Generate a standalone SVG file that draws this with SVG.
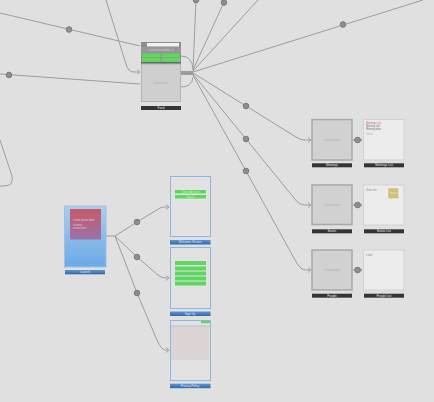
<svg xmlns="http://www.w3.org/2000/svg" width="434" height="402" viewBox="0 0 434 402">
<defs>
<linearGradient id="blueBg" x1="0" y1="0" x2="0" y2="1"><stop offset="0" stop-color="#a9cdee"/><stop offset="1" stop-color="#6aaae6"/></linearGradient>
<linearGradient id="redBg" x1="0" y1="0" x2="0" y2="1"><stop offset="0" stop-color="#c9586a"/><stop offset="1" stop-color="#9a73a8"/></linearGradient>
<linearGradient id="blueBar" x1="0" y1="0" x2="0" y2="1"><stop offset="0" stop-color="#5d95d3"/><stop offset="1" stop-color="#2f67ad"/></linearGradient>
<marker id="arr" markerWidth="6" markerHeight="6" refX="4" refY="3" orient="auto" markerUnits="userSpaceOnUse"><path d="M1,0.5 L4,3 L1,5.5" fill="none" stroke="#a5a5a5" stroke-width="1"/></marker>
</defs>
<style>
.bg{fill:#e0e0e0}
.ln{fill:none;stroke:#9d9d9d;stroke-width:1}
.dot{fill:#8e8e8e;stroke:#7a7a7a;stroke-width:1}
.cont{fill:#d1d1d1;stroke:#a8a8a8;stroke-width:1.5}
.scr{fill:#ececec;stroke:#d2d2d2;stroke-width:1}
.bar{fill:#343434}
.bbar{fill:url(#blueBar)}
.lbl{font-family:"Liberation Sans",Arial,sans-serif;font-size:3px;fill:#e8e8e8;text-anchor:middle}
.ct{font-family:"Liberation Sans",Arial,sans-serif;font-size:3.5px;fill:#b0b0b0;text-anchor:middle}
.sm{font-family:"Liberation Sans",Arial,sans-serif;font-size:2.6px}
.grn{fill:#5fd75f}
.mframe{fill:#e2e2e2;stroke:#8fb6e0;stroke-width:1}
</style>
<rect class="bg" width="434" height="402"/>
<g id="connectors">
<path class="ln" d="M0,13 L140,46"/>
<path class="ln" d="M106,0 L126,64 Q128,72 134,72 L140,72" marker-end="url(#arr)"/>
<path class="ln" d="M0,74 L140,84"/>
<path class="ln" d="M0,140 L12,176 Q14,186 4,186 L0,186"/>
<path class="ln" d="M181,56 Q192,56 193,69"/>
<path class="ln" d="M181,87 Q192,87 193,77"/>
<path d="M181,73 L193,73" stroke="#9d9d9d" stroke-width="4" fill="none"/>
<path class="ln" d="M193,70 L196,0"/>
<path class="ln" d="M193,70 L225,0"/>
<path class="ln" d="M193,71 L258,0"/>
<path class="ln" d="M193,72 L423,0"/>
<path class="ln" d="M193,73 L246,106 L296,137 Q300,140 305,140 L311,140" marker-end="url(#arr)"/>
<path class="ln" d="M193,74 L246,139 L294,198 Q299,205 305,205 L311,205" marker-end="url(#arr)"/>
<path class="ln" d="M193,75 L246,171 L295,260 Q300,270 306,270 L311,270" marker-end="url(#arr)"/>
<path class="ln" d="M352,140 L362,140" marker-end="url(#arr)"/>
<path class="ln" d="M352,205 L362,205" marker-end="url(#arr)"/>
<path class="ln" d="M352,270 L362,270" marker-end="url(#arr)"/>
<path class="ln" d="M106,236 L115,236 L137,222 L160,208 Q162,207 165,207 L169,207" marker-end="url(#arr)"/>
<path class="ln" d="M115,236 L137,257 L158,275 Q162,278 165,278 L169,278" marker-end="url(#arr)"/>
<path class="ln" d="M115,236 L137,293 L157,340 Q161,350 166,350 L169,350" marker-end="url(#arr)"/>
<circle class="dot" cx="69" cy="29.5" r="2.8"/>
<circle class="dot" cx="9" cy="75" r="2.8"/>
<circle class="dot" cx="196" cy="0" r="2.8"/>
<circle class="dot" cx="224" cy="2.5" r="2.8"/>
<circle class="dot" cx="343" cy="24.5" r="2.8"/>
<circle class="dot" cx="246" cy="106" r="2.8"/>
<circle class="dot" cx="246" cy="139" r="2.8"/>
<circle class="dot" cx="246" cy="171" r="2.8"/>
<circle class="dot" cx="357.5" cy="140" r="2.8"/>
<circle class="dot" cx="357.5" cy="205" r="2.8"/>
<circle class="dot" cx="357.5" cy="270" r="2.8"/>
<circle class="dot" cx="137" cy="222" r="2.8"/>
<circle class="dot" cx="137" cy="257" r="2.8"/>
<circle class="dot" cx="137" cy="293" r="2.8"/>
</g>
<g id="feed">
<rect x="141" y="42" width="40" height="60" fill="#a3a3a3"/>
<rect x="141" y="42" width="40" height="5" fill="#8e8e8e"/>
<rect x="147" y="43" width="32" height="3.5" fill="#f2f2f2"/>
<rect x="141" y="47" width="40" height="6" fill="#979797"/>
<text class="sm" x="161" y="51" text-anchor="middle" fill="#cfcfcf">Lorem ipsum dolor sit</text>
<rect x="141" y="53" width="40" height="9" fill="#8e8e8e"/>
<rect class="grn" x="142" y="53.5" width="18.5" height="4"/>
<rect class="grn" x="161.5" y="53.5" width="18.5" height="4"/>
<rect class="grn" x="142" y="58" width="18.5" height="3.8"/>
<rect class="grn" x="161.5" y="58" width="18.5" height="3.8"/>
<rect x="141" y="62" width="40" height="2" fill="#5e6d6d"/>
<rect x="141.5" y="64" width="39" height="37.5" fill="#cfcfcf" stroke="#b3b3b3" stroke-width="1"/>
<text class="ct" x="161" y="84">Container</text>
<rect class="bar" x="141" y="106" width="40" height="4"/>
<text class="lbl" x="161" y="109">Feed</text>
</g>
<g id="launch">
<rect x="64.5" y="206" width="41.5" height="61" fill="url(#blueBg)" stroke="#9cc0e4" stroke-width="1"/>
<rect x="70" y="209" width="31" height="30.5" fill="url(#redBg)"/>
<text class="sm" x="73" y="221" fill="#e8c8d0">Lorem ipsum dolor</text>
<text class="sm" x="73" y="226" fill="#e8c8d0">sit amet</text>
<text class="sm" x="73" y="229" fill="#e8c8d0">consectetur</text>
<rect class="bbar" x="65" y="270" width="40" height="4.3"/>
<text class="lbl" x="85" y="273.2">Launch</text>
</g>
<g id="welcome">
<rect class="mframe" x="170.5" y="176.5" width="40" height="60"/>
<rect class="grn" x="175" y="190" width="31" height="3.5"/>
<rect class="grn" x="175" y="195" width="31" height="3.5"/>
<text class="sm" x="190.5" y="192.5" text-anchor="middle" fill="#c8f0c8">Create Account</text>
<text class="sm" x="190.5" y="197.5" text-anchor="middle" fill="#c8f0c8">Sign In</text>
<rect class="bbar" x="170" y="240" width="40.5" height="4.5"/>
<text class="lbl" x="190" y="243.3">Welcome Screen</text>
</g>
<g id="signup">
<rect class="mframe" x="170.5" y="247.5" width="40" height="61"/>
<rect class="grn" x="175" y="261" width="31" height="4"/>
<rect class="grn" x="175" y="266.5" width="31" height="4"/>
<rect class="grn" x="175" y="271.5" width="31" height="4"/>
<rect class="grn" x="175" y="276.5" width="31" height="4"/>
<rect class="grn" x="175" y="281.5" width="31" height="4"/>
<rect class="bbar" x="170" y="311.5" width="40.5" height="4.5"/>
<text class="lbl" x="190" y="314.8">Sign Up</text>
</g>
<g id="privacy">
<rect class="mframe" x="170.5" y="320.5" width="40" height="60"/>
<rect class="grn" x="201" y="321" width="9" height="2.2"/>
<rect x="171" y="325.3" width="38.5" height="1.6" fill="#c9c9c9"/>
<rect x="171" y="327" width="38.5" height="33" fill="#dcd4d4"/>
<rect class="bbar" x="170" y="383.7" width="40.5" height="4.5"/>
<text class="lbl" x="190" y="387">Privacy Policy</text>
</g>
<g id="meetings">
<rect class="cont" x="312" y="119.5" width="40" height="40.5"/>
<text class="ct" x="332" y="141">Container</text>
<rect class="bar" x="312" y="163.3" width="40" height="4"/>
<text class="lbl" x="332" y="166.2">Meetings</text>
</g>
<g id="meetings-list">
<rect class="scr" x="363.5" y="119.5" width="40.5" height="40.5"/>
<text class="sm" x="366" y="123.5" fill="#d06060">Meetings List</text>
<text class="sm" x="366" y="127" fill="#707070">Meeting title</text>
<text class="sm" x="366" y="129.8" fill="#707070">Meeting date</text>
<text class="sm" x="366" y="134.5" fill="#b0b0b0">Detail</text>
<rect class="bar" x="364" y="163.3" width="40" height="4"/>
<text class="lbl" x="384" y="166.2">Meetings List</text>
</g>
<g id="books">
<rect class="cont" x="312" y="185" width="40" height="39.5"/>
<text class="ct" x="332" y="206">Container</text>
<rect class="bar" x="312" y="229.3" width="40" height="4"/>
<text class="lbl" x="332" y="232.2">Books</text>
</g>
<g id="books-list">
<rect class="scr" x="363.5" y="185" width="40.5" height="40"/>
<text class="sm" x="366" y="190.5" fill="#909090">Book title</text>
<rect x="388.3" y="188.3" width="10" height="10" fill="#cdbf76"/>
<text class="sm" x="393.3" y="193.8" text-anchor="middle" fill="#eee6c0">Image</text>
<rect class="bar" x="364" y="229.3" width="40" height="4"/>
<text class="lbl" x="384" y="232.2">Books List</text>
</g>
<g id="people">
<rect class="cont" x="312" y="250" width="40" height="40"/>
<text class="ct" x="332" y="271">Container</text>
<rect class="bar" x="312" y="293.7" width="40" height="4"/>
<text class="lbl" x="332" y="296.6">People</text>
</g>
<g id="people-list">
<rect class="scr" x="363.5" y="250" width="40.5" height="40"/>
<text class="sm" x="366" y="256" fill="#909090">Label</text>
<rect class="bar" x="364" y="293.7" width="40" height="4"/>
<text class="lbl" x="384" y="296.6">People List</text>
</g>
</svg>
